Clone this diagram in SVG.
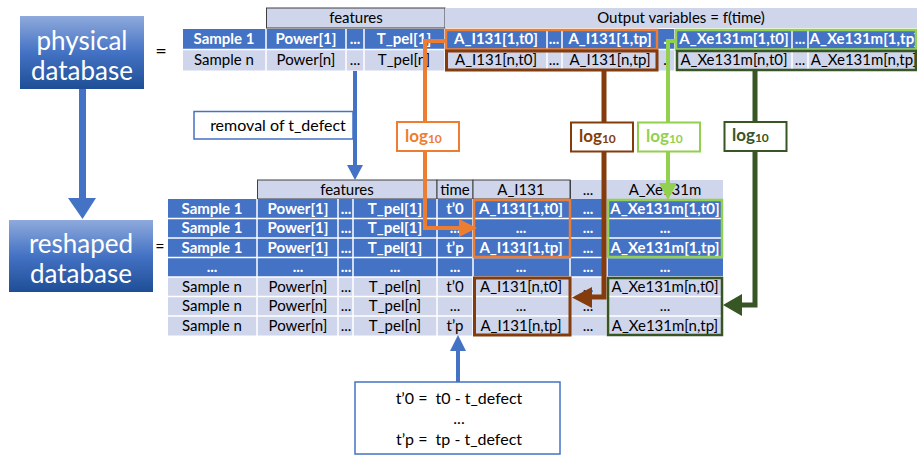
<svg xmlns="http://www.w3.org/2000/svg" width="917" height="456" viewBox="0 0 917 456">
<defs>
<linearGradient id="gb" x1="0" y1="0" x2="0" y2="1">
<stop offset="0" stop-color="#8FAADC"/>
<stop offset="0.5" stop-color="#4472C4"/>
<stop offset="1" stop-color="#1F4E96"/>
</linearGradient>
</defs>
<style>
text{font-family:Lato,"Liberation Sans",sans-serif;text-anchor:middle}
.t{font-size:15px}
.w{fill:#fff;font-weight:bold}
.k{fill:#000}
.big{font-size:26px;fill:#fff}
.dk{fill:#4472C4}
.lt{fill:#CFD5EA}
.hd{fill:#CFD5EA;stroke:#404040;stroke-width:1}
.gl{stroke:#fff;stroke-width:1.5}
.box{fill:none}
.lg{font-size:17px;font-weight:bold;text-anchor:start}
.sub{font-size:12px}
.ln{fill:none;stroke-linejoin:miter}
.pre{font-size:16px;white-space:pre}
</style>
<rect width="917" height="456" fill="#fff"/>

<g id="physical">
<rect x="20" y="16" width="124" height="73" fill="url(#gb)"/>
<text class="big" x="82" y="50">physical</text>
<text class="big" x="82" y="80">database</text>
</g>
<text x="161" y="58" style="font-size:20px">=</text>

<g id="reshaped">
<rect x="9" y="220" width="144" height="72" fill="url(#gb)"/>
<text class="big" x="81" y="253">reshaped</text>
<text class="big" x="81" y="283">database</text>
</g>
<text x="160" y="252" style="font-size:16px">=</text>

<g id="top-table">
<rect class="hd" x="266.5" y="8" width="178.5" height="20"/>
<text class="t k" x="356" y="23">features</text>
<rect class="lt" x="445" y="8" width="472" height="20"/>
<text class="t k" x="681" y="23">Output variables = f(time)</text>
<rect class="dk" x="183" y="29" width="734" height="20.5"/>
<rect class="lt" x="183" y="49.5" width="734" height="21"/>
<g class="gl">
<line x1="183" y1="49.5" x2="917" y2="49.5"/>
<line x1="266" y1="29" x2="266" y2="71"/>
<line x1="346" y1="29" x2="346" y2="71"/>
<line x1="364" y1="29" x2="364" y2="71"/>
<line x1="445" y1="29" x2="445" y2="71"/>
<line x1="547" y1="29" x2="547" y2="71"/>
<line x1="562" y1="29" x2="562" y2="71"/>
<line x1="657" y1="29" x2="657" y2="71"/>
<line x1="675" y1="29" x2="675" y2="71"/>
<line x1="792" y1="29" x2="792" y2="71"/>
<line x1="808" y1="29" x2="808" y2="71"/>
</g>
<g class="t w">
<text x="224" y="44">Sample 1</text>
<text x="306" y="44">Power[1]</text>
<text x="355" y="44">...</text>
<text x="404" y="44">T_pel[1]</text>
<text x="496" y="44">A_I131[1,t0]</text>
<text x="554" y="44">...</text>
<text x="610" y="44">A_I131[1,tp]</text>
<text x="665" y="44">.</text>
<text x="734" y="44">A_Xe131m[1,t0]</text>
<text x="800" y="44">...</text>
<text x="864" y="44">A_Xe131m[1,tp]</text>
</g>
<g class="t k">
<text x="224" y="65">Sample n</text>
<text x="306" y="65">Power[n]</text>
<text x="355" y="65">...</text>
<text x="404" y="65">T_pel[n]</text>
<text x="496" y="65">A_I131[n,t0]</text>
<text x="554" y="65">...</text>
<text x="610" y="65">A_I131[n,tp]</text>
<text x="665" y="65">.</text>
<text x="734" y="65">A_Xe131m[n,t0]</text>
<text x="800" y="65">...</text>
<text x="864" y="65">A_Xe131m[n,tp]</text>
</g>
<rect class="box" x="446" y="30" width="211" height="19.5" stroke="#ED7D31" stroke-width="2.5"/>
<rect class="box" x="446.5" y="51" width="210.5" height="19" stroke="#843C0C" stroke-width="3"/>
<rect class="box" x="676" y="30" width="240" height="19.5" stroke="#92D050" stroke-width="2.5"/>
<rect class="box" x="677" y="51" width="239" height="19" stroke="#375623" stroke-width="2.5"/>
</g>

<g id="bottom-table">
<rect class="hd" x="257.5" y="180" width="179.5" height="19"/>
<rect class="hd" x="437" y="180" width="36" height="19"/>
<rect class="hd" x="473" y="180" width="97" height="19"/>
<rect class="lt" x="570.5" y="180" width="152.5" height="19"/>
<line x1="570.5" y1="180" x2="570.5" y2="199" stroke="#404040" stroke-width="1"/>
<g class="t k">
<text x="347" y="195">features</text>
<text x="455" y="195">time</text>
<text x="521" y="195">A_I131</text>
<text x="588" y="195">...</text>
<text x="665" y="195">A_Xe131m</text>
</g>
<rect class="dk" x="168" y="199" width="555" height="78"/>
<rect class="lt" x="168" y="277" width="555" height="58.5"/>
<g class="gl">
<line x1="168" y1="218.5" x2="723" y2="218.5"/>
<line x1="168" y1="238" x2="723" y2="238"/>
<line x1="168" y1="257.5" x2="723" y2="257.5"/>
<line x1="168" y1="277" x2="723" y2="277"/>
<line x1="168" y1="296.5" x2="723" y2="296.5"/>
<line x1="168" y1="316" x2="723" y2="316"/>
<line x1="257" y1="199" x2="257" y2="336"/>
<line x1="338" y1="199" x2="338" y2="336"/>
<line x1="353" y1="199" x2="353" y2="336"/>
<line x1="437" y1="199" x2="437" y2="336"/>
<line x1="473" y1="199" x2="473" y2="336"/>
<line x1="570" y1="199" x2="570" y2="336"/>
<line x1="607" y1="199" x2="607" y2="336"/>
</g>
<g class="t w">
<text x="212" y="214">Sample 1</text><text x="298" y="214">Power[1]</text><text x="346" y="214">...</text><text x="395" y="214">T_pel[1]</text><text x="455" y="214">t’0</text><text x="521" y="214">A_I131[1,t0]</text><text x="588" y="214">...</text><text x="665" y="214">A_Xe131m[1,t0]</text>
<text x="212" y="233">Sample 1</text><text x="298" y="233">Power[1]</text><text x="346" y="233">...</text><text x="395" y="233">T_pel[1]</text><text x="455" y="233">...</text><text x="521" y="233">...</text><text x="588" y="233">...</text><text x="665" y="233">...</text>
<text x="212" y="253">Sample 1</text><text x="298" y="253">Power[1]</text><text x="346" y="253">...</text><text x="395" y="253">T_pel[1]</text><text x="455" y="253">t’p</text><text x="521" y="253">A_I131[1,tp]</text><text x="588" y="253">...</text><text x="665" y="253">A_Xe131m[1,tp]</text>
<text x="212" y="272">...</text><text x="298" y="272">...</text><text x="346" y="272">...</text><text x="395" y="272">...</text><text x="455" y="272">...</text><text x="521" y="272">...</text><text x="588" y="272">...</text><text x="665" y="272">...</text>
</g>
<g class="t k">
<text x="212" y="292">Sample n</text><text x="298" y="292">Power[n]</text><text x="346" y="292">...</text><text x="395" y="292">T_pel[n]</text><text x="455" y="292">t’0</text><text x="521" y="292">A_I131[n,t0]</text><text x="588" y="292">...</text><text x="665" y="292">A_Xe131m[n,t0]</text>
<text x="212" y="311">Sample n</text><text x="298" y="311">Power[n]</text><text x="346" y="311">...</text><text x="395" y="311">T_pel[n]</text><text x="455" y="311">...</text><text x="521" y="311">...</text><text x="588" y="311">...</text><text x="665" y="311">...</text>
<text x="212" y="331">Sample n</text><text x="298" y="331">Power[n]</text><text x="346" y="331">...</text><text x="395" y="331">T_pel[n]</text><text x="455" y="331">t’p</text><text x="521" y="331">A_I131[n,tp]</text><text x="588" y="331">...</text><text x="665" y="331">A_Xe131m[n,tp]</text>
</g>
<rect class="box" x="474" y="200" width="96" height="57" stroke="#ED7D31" stroke-width="2.5"/>
<rect class="box" x="474.5" y="278" width="95.5" height="57" stroke="#843C0C" stroke-width="3"/>
<rect class="box" x="608" y="200" width="114" height="57" stroke="#92D050" stroke-width="2.5"/>
<rect class="box" x="608" y="278" width="114" height="57" stroke="#375623" stroke-width="2.5"/>
</g>

<g id="connectors">
<line x1="82.5" y1="89" x2="82.5" y2="200" stroke="#4472C4" stroke-width="7"/>
<polygon points="68,198 96,198 82.5,219" fill="#4472C4"/>
<line x1="355" y1="71" x2="355" y2="167" stroke="#4472C4" stroke-width="4"/>
<polygon points="347,165 363,165 355,180" fill="#4472C4"/>
<line x1="458" y1="382" x2="458" y2="349" stroke="#4472C4" stroke-width="4"/>
<polygon points="450,351 466,351 458,335" fill="#4472C4"/>
<polyline class="ln" points="445,41 425,41 425,228 461,228" stroke="#ED7D31" stroke-width="4"/>
<polygon points="459,219 459,237 477,228" fill="#ED7D31"/>
<polyline class="ln" points="604,70 604,297 590,297" stroke="#843C0C" stroke-width="5"/>
<polygon points="592,287 592,308 572,297.5" fill="#843C0C"/>
<polyline class="ln" points="675,41 668,41 668,185" stroke="#92D050" stroke-width="4"/>
<polygon points="659,183 677,183 668,200" fill="#92D050"/>
<polyline class="ln" points="755,70 755,305 740,305" stroke="#375623" stroke-width="5"/>
<polygon points="742,294 742,316 723,305" fill="#375623"/>
</g>

<g id="removal">
<rect x="194" y="111.5" width="159" height="27.5" fill="#fff" stroke="#4472C4" stroke-width="1.5"/>
<text x="278" y="131" style="font-size:16px">removal of t_defect</text>
</g>

<g id="log-orange">
<rect x="397" y="122" width="62" height="29" fill="#fff" stroke="#ED7D31" stroke-width="2"/>
<text class="lg" x="405" y="142" fill="#ED7D31">log<tspan class="sub" dy="1">10</tspan></text>
</g>
<g id="log-brown">
<rect x="571" y="122.5" width="62" height="29" fill="#fff" stroke="#843C0C" stroke-width="2"/>
<text class="lg" x="579" y="142" fill="#843C0C">log<tspan class="sub" dy="1">10</tspan></text>
</g>
<g id="log-lightgreen">
<rect x="638" y="122.5" width="62" height="29" fill="#fff" stroke="#92D050" stroke-width="2"/>
<text class="lg" x="646" y="142" fill="#92D050">log<tspan class="sub" dy="1">10</tspan></text>
</g>
<g id="log-darkgreen">
<rect x="724.5" y="122" width="62" height="29" fill="#fff" stroke="#375623" stroke-width="2"/>
<text class="lg" x="732" y="141" fill="#375623">log<tspan class="sub" dy="1">10</tspan></text>
</g>

<g id="time-def">
<rect x="355" y="382" width="205" height="72" fill="#fff" stroke="#4472C4" stroke-width="1.5"/>
<text class="pre" x="459" y="404">t’0 =  t0 - t_defect</text>
<text class="pre" x="459" y="424">...</text>
<text class="pre" x="459" y="445">t’p =  tp - t_defect</text>
</g>
</svg>
